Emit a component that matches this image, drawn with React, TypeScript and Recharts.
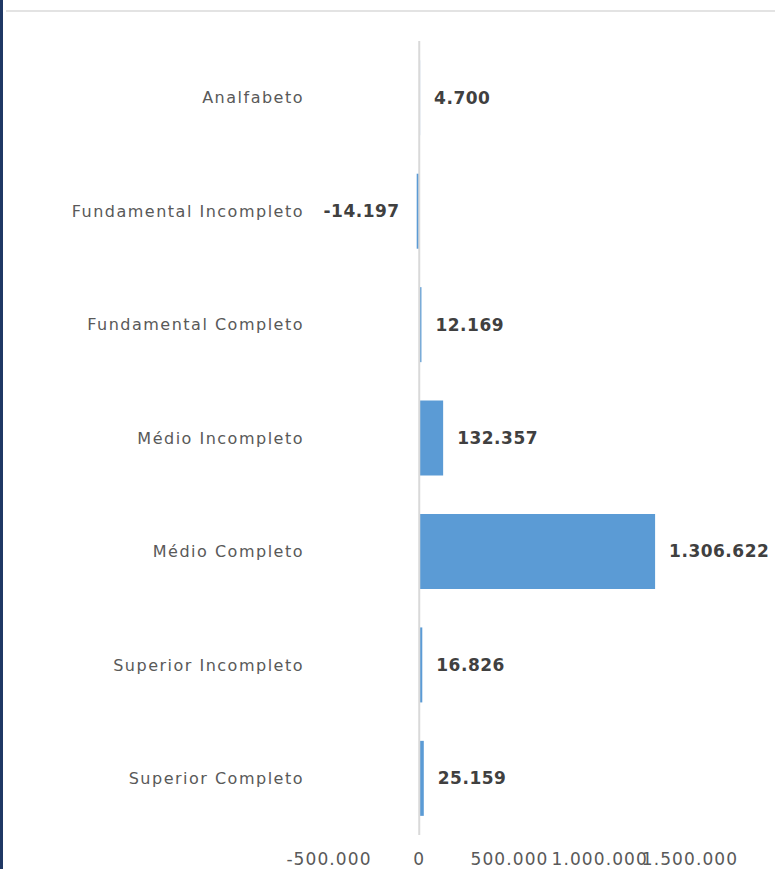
import React from 'react';
import { BarChart, Bar, XAxis, YAxis, ReferenceLine, LabelList } from 'recharts';

const categories = [
  'Analfabeto',
  'Fundamental Incompleto',
  'Fundamental Completo',
  'Médio Incompleto',
  'Médio Completo',
  'Superior Incompleto',
  'Superior Completo',
];
const saldo = [4700, -14197, 12169, 132357, 1306622, 16826, 25159];
const xTicks = [-500000, 0, 500000, 1000000, 1500000];

const data = categories.map((name, i) => ({ name, value: saldo[i] }));

// pt-BR style thousands separator
const fmt = (v: number) => {
  const s = String(Math.abs(Math.round(v))).replace(/\B(?=(\d{3})+(?!\d))/g, '.');
  return v < 0 ? '-' + s : s;
};

const FONT = '"DejaVu Sans", sans-serif';

const ValueLabel = (props: any) => {
  const { x, y, width, height, value } = props;
  const left = Math.min(x, x + width);
  const right = Math.max(x, x + width);
  const neg = value < 0;
  return (
    <text
      x={neg ? left - 17 : right + 14}
      y={y + height / 2}
      textAnchor={neg ? 'end' : 'start'}
      dominantBaseline="central"
      fill="#404040"
      fontSize={17}
      fontWeight="bold"
      letterSpacing={0.5}
      fontFamily={FONT}
    >
      {fmt(value)}
    </text>
  );
};

export default function App() {
  return (
    <div
      style={{
        position: 'absolute',
        left: 0,
        top: 0,
        width: 775,
        height: 869,
        background: '#fff',
        overflow: 'hidden',
      }}
    >
      <div style={{ position: 'absolute', left: 0, top: 0, width: 3, height: 869, background: '#1F3864' }} />
      <div style={{ position: 'absolute', left: 6, top: 10, right: 0, height: 2, background: '#e3e3e3' }} />
      <BarChart
        layout="vertical"
        width={775}
        height={869}
        data={data}
        margin={{ top: 41, right: 85, bottom: 0, left: 0 }}
        barCategoryGap="17%"
      >
        <XAxis
          type="number"
          domain={[-500000, 1500000]}
          ticks={xTicks}
          interval={0}
          tickFormatter={fmt}
          axisLine={false}
          tickLine={false}
          tickSize={0}
          tickMargin={18}
          height={34}
          tick={{ fill: '#595959', fontSize: 17, fontFamily: FONT, letterSpacing: 1.1 }}
        />
        <YAxis
          type="category"
          dataKey="name"
          width={329}
          axisLine={false}
          tickLine={false}
          tickSize={0}
          tickMargin={25}
          tick={{ fill: '#595959', fontSize: 16, fontFamily: FONT, letterSpacing: 1.5 }}
        />
        <ReferenceLine x={0} stroke="#d9d9d9" strokeWidth={2} />
        <Bar dataKey="value" fill="#5B9BD5" isAnimationActive={false}>
          <LabelList dataKey="value" content={ValueLabel} />
        </Bar>
      </BarChart>
    </div>
  );
}
